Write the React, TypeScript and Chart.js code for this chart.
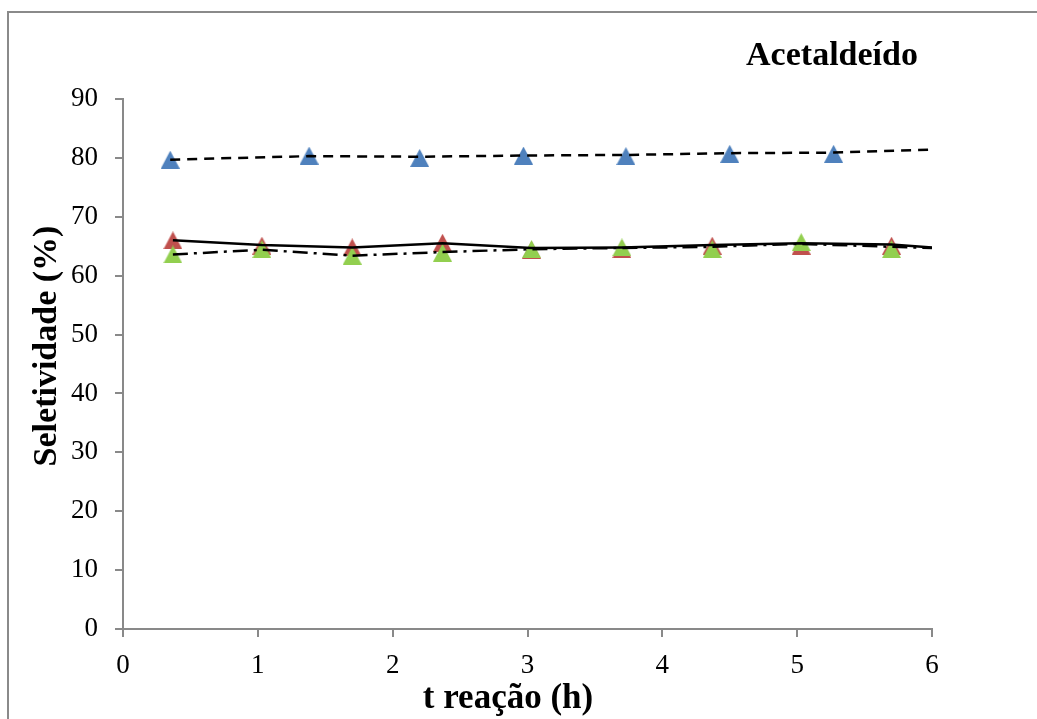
import React, { useEffect, useRef } from "react";
import { Chart, registerables } from "chart.js";

Chart.register(...registerables);

// ---- data ----
const tBlue = [0.35, 1.38, 2.2, 2.97, 3.73, 4.5, 5.27];
const selBlue = [79.7, 80.4, 80.0, 80.4, 80.3, 80.7, 80.7];

const tRedGreen = [0.37, 1.03, 1.7, 2.37, 3.03, 3.7, 4.37, 5.03, 5.7];
const selRed = [66.0, 65.1, 64.8, 65.6, 64.4, 64.5, 65.1, 65.1, 65.1];
const selGreen = [63.6, 64.5, 63.4, 63.9, 64.5, 64.8, 64.5, 65.7, 64.5];

const tDashed = [0.35, 1.38, 2.2, 2.97, 3.73, 4.5, 5.27, 6];
const lineDashed = [79.7, 80.3, 80.2, 80.4, 80.5, 80.8, 80.9, 81.4];

const tLines = [0.37, 1.03, 1.7, 2.37, 3.03, 3.7, 4.37, 5.03, 5.7, 6];
const lineSolid = [66.0, 65.2, 64.8, 65.5, 64.7, 64.8, 65.2, 65.5, 65.3, 64.8];
const lineDashDot = [63.6, 64.4, 63.4, 64.0, 64.5, 64.7, 64.9, 65.4, 64.9, 64.7];

const xTicks = [0, 1, 2, 3, 4, 5, 6];
const yTicks = [0, 10, 20, 30, 40, 50, 60, 70, 80, 90];

const chartTitle = "Acetaldeído";
const xTitle = "t reação (h)";
const yTitle = "Seletividade (%)";

const FONT = "'Liberation Serif', 'Times New Roman', serif";
const AXIS_COLOR = "#898989";

function toPts(xs: number[], ys: number[]) {
  return xs.map((x, i) => ({ x, y: ys[i] }));
}

function triangle(color: string): HTMLCanvasElement {
  const w = 19;
  const h = 18;
  const c = document.createElement("canvas");
  c.width = w;
  c.height = h;
  const ctx = c.getContext("2d")!;
  ctx.fillStyle = color;
  ctx.beginPath();
  ctx.moveTo(w / 2, 0);
  ctx.lineTo(w, h);
  ctx.lineTo(0, h);
  ctx.closePath();
  ctx.fill();
  return c;
}

const framePlugin = {
  id: "frame",
  beforeDraw(chart: any) {
    const ctx = chart.ctx;
    ctx.save();
    ctx.fillStyle = "#ffffff";
    ctx.fillRect(0, 0, chart.width, chart.height);
    ctx.strokeStyle = "#8a8a8a";
    ctx.lineWidth = 2;
    ctx.beginPath();
    ctx.moveTo(8, chart.height);
    ctx.lineTo(8, 12);
    ctx.lineTo(chart.width, 12);
    ctx.stroke();
    ctx.restore();
  },
  afterDraw(chart: any) {
    const ctx = chart.ctx;
    ctx.save();
    ctx.fillStyle = "#000";
    ctx.textAlign = "center";
    ctx.textBaseline = "middle";
    ctx.font = `bold 34px ${FONT}`;
    ctx.fillText(chartTitle, 832, 56);
    ctx.font = `bold 35px ${FONT}`;
    ctx.fillText(xTitle, 508, 699);
    ctx.translate(47, 346);
    ctx.rotate(-Math.PI / 2);
    ctx.font = `bold 34px ${FONT}`;
    ctx.fillText(yTitle, 0, 0);
    ctx.restore();
  },
};

export default function App() {
  const ref = useRef<HTMLCanvasElement | null>(null);

  useEffect(() => {
    if (!ref.current) return;
    const blueTri = triangle("#4F81BD");
    const redTri = triangle("#C0504D");
    const greenTri = triangle("#92CF4F");

    const chart = new Chart(ref.current, {
      type: "scatter",
      data: {
        datasets: [
          {
            label: "dashed",
            data: toPts(tDashed, lineDashed),
            showLine: true,
            borderColor: "#000",
            borderWidth: 2.5,
            borderDash: [10, 7],
            pointRadius: 0,
            tension: 0,
          },
          {
            label: "solid",
            data: toPts(tLines, lineSolid),
            showLine: true,
            borderColor: "#000",
            borderWidth: 2.5,
            pointRadius: 0,
            tension: 0,
          },
          {
            label: "dashdot",
            data: toPts(tLines, lineDashDot),
            showLine: true,
            borderColor: "#000",
            borderWidth: 2.5,
            borderDash: [15, 6, 3, 6],
            pointRadius: 0,
            tension: 0,
          },
          {
            label: "green",
            data: toPts(tRedGreen, selGreen),
            showLine: false,
            pointStyle: greenTri as any,
            pointRadius: 9,
            backgroundColor: "#92CF4F",
            borderColor: "#92CF4F",
          },
          {
            label: "red",
            data: toPts(tRedGreen, selRed),
            showLine: false,
            pointStyle: redTri as any,
            pointRadius: 9,
            backgroundColor: "#C0504D",
            borderColor: "#C0504D",
          },
          {
            label: "blue",
            data: toPts(tBlue, selBlue),
            showLine: false,
            pointStyle: blueTri as any,
            pointRadius: 9,
            backgroundColor: "#4F81BD",
            borderColor: "#4F81BD",
          },
        ],
      },
      options: {
        responsive: false,
        animation: false,
        events: [],
        layout: { padding: { top: 99, right: 105, left: 0, bottom: 0 } },
        plugins: {
          legend: { display: false },
          tooltip: { enabled: false },
          title: { display: false },
        },
        scales: {
          x: {
            type: "linear",
            min: 0,
            max: 6,
            afterBuildTicks: (scale: any) => {
              scale.ticks = xTicks.map((v) => ({ value: v }));
            },
            afterFit: (scale: any) => {
              scale.height = 90;
            },
            ticks: {
              color: "#000",
              font: { family: FONT, size: 27 },
              padding: 13,
              maxRotation: 0,
            },
            grid: {
              display: true,
              drawOnChartArea: false,
              drawTicks: true,
              tickLength: 8,
              color: AXIS_COLOR,
              lineWidth: 2,
            },
            border: { display: true, color: AXIS_COLOR, width: 2 },
            title: { display: false },
          },
          y: {
            type: "linear",
            min: 0,
            max: 90,
            afterBuildTicks: (scale: any) => {
              scale.ticks = yTicks.map((v) => ({ value: v }));
            },
            afterFit: (scale: any) => {
              scale.width = 123;
            },
            ticks: {
              color: "#000",
              font: { family: FONT, size: 27 },
              padding: 17,
            },
            grid: {
              display: true,
              drawOnChartArea: false,
              drawTicks: true,
              tickLength: 8,
              color: AXIS_COLOR,
              lineWidth: 2,
            },
            border: { display: true, color: AXIS_COLOR, width: 2 },
            title: { display: false },
          },
        },
      },
      plugins: [framePlugin],
    });
    return () => chart.destroy();
  }, []);

  return (
    <div
      style={{
        position: "fixed",
        left: 0,
        top: 0,
        width: 1037,
        height: 719,
        background: "#fff",
      }}
    >
      <canvas ref={ref} width={1037} height={719} style={{ display: "block" }} />
    </div>
  );
}
